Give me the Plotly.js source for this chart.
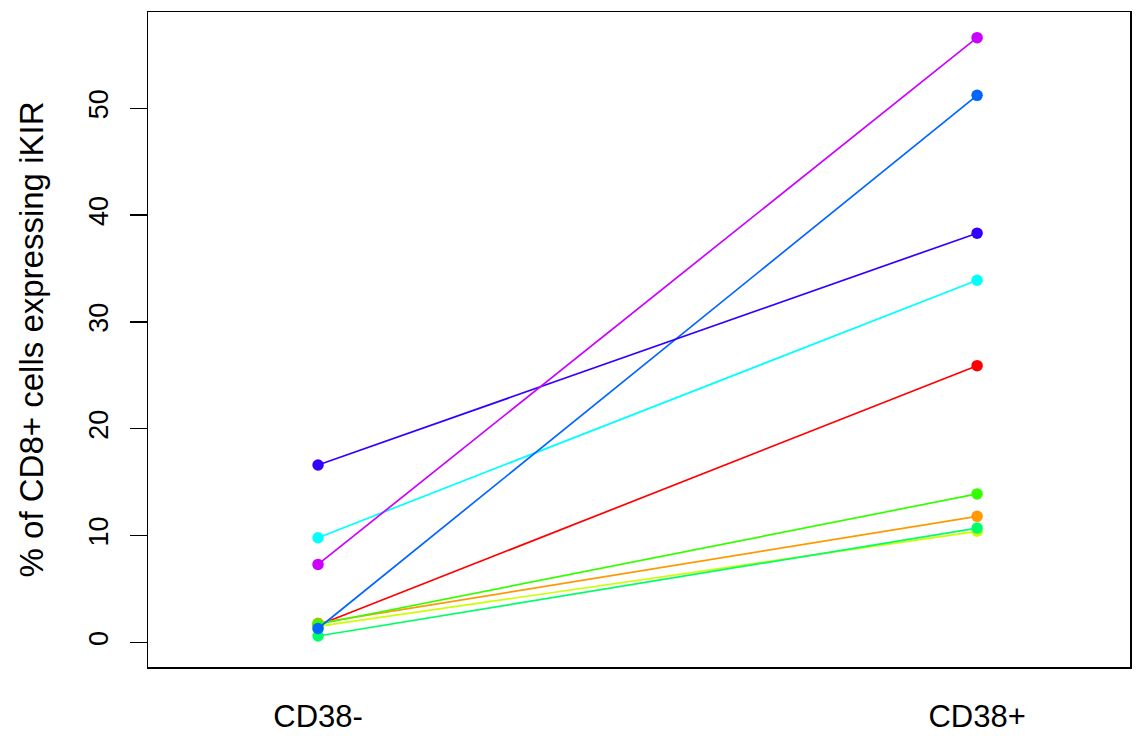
<!DOCTYPE html>
<html>
<head>
<meta charset="utf-8">
<script src="https://cdn.plot.ly/plotly-3.0.1.min.js"></script>
<style>html,body{margin:0;padding:0;background:#fff;}#chart{width:1140px;height:736px;}</style>
</head>
<body>
<div id="chart"></div>
<script>
const categories = ["CD38-", "CD38+"];
const seriesNames = ["S1", "S2", "S3", "S4", "S5", "S6", "S7", "S8", "S9"];
const seriesColors = ["#FF0000", "#FF9900", "#CCFF00", "#33FF00", "#00FF66", "#00FFFF", "#0066FF", "#3300FF", "#CC00FF"];
const cd38neg = [1.6, 1.8, 1.5, 1.7, 0.6, 9.8, 1.3, 16.6, 7.3];
const cd38pos = [25.9, 11.8, 10.4, 13.9, 10.7, 33.9, 51.2, 38.3, 56.6];
const yTicks = [0, 10, 20, 30, 40, 50];

const traces = seriesNames.map((name, i) => ({
  type: "scatter",
  mode: "lines+markers",
  name: name,
  x: [0, 1],
  y: [cd38neg[i], cd38pos[i]],
  line: {color: seriesColors[i], width: 1.7},
  marker: {color: seriesColors[i], size: 11.5},
  showlegend: false,
  hoverinfo: "y"
}));

const layout = {
  width: 1140, height: 736,
  margin: {l: 148, r: 10, t: 12, b: 69},
  paper_bgcolor: "#fff", plot_bgcolor: "#fff",
  font: {family: "Liberation Sans, Arial, sans-serif", color: "#000"},
  showlegend: false,
  xaxis: {
    range: [-0.258, 1.232],
    tickmode: "array", tickvals: [0, 1], ticktext: categories,
    ticks: "", showgrid: false, zeroline: false,
    showline: true, linecolor: "#000", linewidth: 1.5, mirror: true,
    tickfont: {size: 31, color: "#000"},
    ticklabelstandoff: 21
  },
  yaxis: {
    range: [-2.3, 59],
    tickmode: "array", tickvals: yTicks, ticktext: yTicks.map(String),
    ticks: "outside", ticklen: 17, tickwidth: 1.3, tickcolor: "#000",
    tickangle: -90, tickfont: {size: 27, color: "#000"},
    ticklabelstandoff: 11,
    showgrid: false, zeroline: false,
    showline: true, linecolor: "#000", linewidth: 1.5, mirror: true,
    title: {text: "% of CD8+ cells expressing iKIR", font: {size: 33, color: "#000"}, standoff: 30}
  }
};

Plotly.newPlot("chart", traces, layout, {displayModeBar: false, staticPlot: true});
</script>
</body>
</html>
